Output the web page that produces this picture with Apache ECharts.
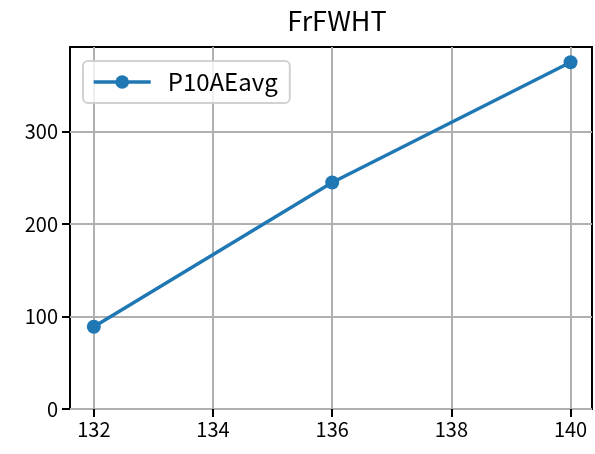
<!DOCTYPE html>
<html>
<head>
<meta charset="utf-8">
<script src="https://cdn.jsdelivr.net/npm/echarts@6/dist/echarts.min.js"></script>
<style>
html,body{margin:0;padding:0;background:#fff;}
#chart{width:595px;height:454px;}
</style>
</head>
<body>
<div id="chart"></div>
<script>
const xValues = [132, 136, 140];
const yValues = [89, 245, 375];
const seriesName = 'P10AEavg';
const chartTitle = 'FrFWHT';
const xTicks = [132, 134, 136, 138, 140];
const yTicks = [0, 100, 200, 300];

const FONT = '"Noto Sans CJK JP", "Noto Sans CJK SC", sans-serif';
const chart = echarts.init(document.getElementById('chart'), null, {renderer: 'canvas'});
chart.setOption({
  animation: false,
  backgroundColor: '#ffffff',
  title: {
    text: chartTitle,
    left: 332, top: 2,
    textAlign: 'center',
    textStyle: {fontFamily: FONT, fontSize: 27, fontWeight: 'normal', color: '#000'}
  },
  legend: {
    left: 83, top: 61,
    padding: [9, 12, 9, 9],
    itemWidth: 57, itemHeight: 17,
    backgroundColor: 'rgba(255,255,255,0.8)',
    borderColor: 'rgba(204,204,204,0.9)',
    borderWidth: 2,
    borderRadius: 5,
    lineStyle: {width: 3.4, color: '#1f77b4'},
    itemStyle: {color: '#1f77b4'},
    textStyle: {fontFamily: FONT, fontSize: 24, color: '#000', padding: [0, 0, 0, 12]},
    data: [seriesName]
  },
  grid: {
    left: 70, right: 3, top: 47, bottom: 45,
    show: true, borderColor: '#000', borderWidth: 2, backgroundColor: 'transparent'
  },
  xAxis: {
    type: 'value', min: 131.6, max: 140.36,
    axisLine: {show: false},
    axisTick: {show: true, length: 8, lineStyle: {color: '#000', width: 2}, customValues: xTicks},
    axisLabel: {fontFamily: FONT, fontSize: 20, color: '#000', margin: 10, customValues: xTicks},
    splitLine: {show: true, lineStyle: {color: '#b0b0b0', width: 2}}
  },
  yAxis: {
    type: 'value', min: 0, max: 391.5,
    axisLine: {show: false},
    axisTick: {show: true, length: 8, lineStyle: {color: '#000', width: 2}, customValues: yTicks},
    axisLabel: {fontFamily: FONT, fontSize: 20, color: '#000', margin: 12, customValues: yTicks},
    splitLine: {show: true, lineStyle: {color: '#b0b0b0', width: 2}}
  },
  series: [{
    name: seriesName,
    type: 'line',
    data: xValues.map((x, i) => [x, yValues[i]]),
    symbol: 'circle',
    symbolSize: 14,
    itemStyle: {color: '#1f77b4'},
    lineStyle: {color: '#1f77b4', width: 3.4}
  }]
});
</script>
</body>
</html>
